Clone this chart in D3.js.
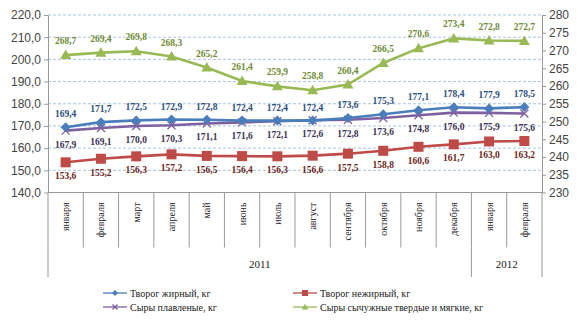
<!DOCTYPE html>
<html><head><meta charset="utf-8">
<script src="https://cdn.jsdelivr.net/npm/d3@7"></script>
<style>body{margin:0;background:#fff}svg{display:block}</style>
</head><body><svg id="c" width="580" height="326"></svg>
<script>
const months = ["января","февраля","март","апреля","май","июнь","июль","август","сентября","октября","ноября","декабря","января","февраля"];
const years = [{label:"2011", from:0, to:12},{label:"2012", from:12, to:14}];
const leftTicks = [140,150,160,170,180,190,200,210,220];
const rightTicks = [230,235,240,245,250,255,260,265,270,275,280];
const tvorogFat = [169.4,171.7,172.5,172.9,172.8,172.4,172.4,172.4,173.6,175.3,177.1,178.4,177.9,178.5];
const tvorogLow = [153.6,155.2,156.3,157.2,156.5,156.4,156.3,156.6,157.5,158.8,160.6,161.7,163.0,163.2];
const cheeseMelt = [167.9,169.1,170.0,170.3,171.1,171.6,172.1,172.6,172.8,173.6,174.8,176.0,175.9,175.6];
const cheeseHard = [268.7,269.4,269.8,268.3,265.2,261.4,259.9,258.8,260.4,266.5,270.6,273.4,272.8,272.7];
const seriesNames = ["Творог жирный, кг","Творог нежирный, кг","Сыры плавленые, кг","Сыры сычужные твердые и мягкие, кг"];

const svg = d3.select("#c");
const L = 48, R = 542, T = 15, B = 192.5;
const x = d3.scaleBand().domain(d3.range(months.length)).range([L, R]);
const yL = d3.scaleLinear().domain([140,220]).range([B, T]);
const yR = d3.scaleLinear().domain([230,280]).range([B, T]);
const fmt = v => v.toFixed(1).replace(".", ",");
const serif = "'Liberation Serif','Times New Roman',serif";
const sans = "'Liberation Sans',Arial,sans-serif";

// gridlines
svg.append("g").selectAll("line").data(leftTicks.filter(d => d > 140)).join("line")
  .attr("x1", L).attr("x2", R).attr("y1", d => yL(d)).attr("y2", d => yL(d))
  .attr("stroke", "#a9c4e0").attr("stroke-dasharray", "3,2").attr("stroke-width", 1);

// left axis
const gl = svg.append("g").attr("transform", `translate(${L},0)`)
  .call(d3.axisLeft(yL).tickValues(leftTicks).tickFormat(fmt).tickSize(4).tickSizeOuter(0));
gl.select(".domain").attr("stroke", "#999");
gl.selectAll(".tick line").attr("stroke", "#999");
gl.selectAll("text").attr("font-family", sans).attr("font-size", 12).attr("fill", "#444");

// right axis
const gr = svg.append("g").attr("transform", `translate(${R},0)`)
  .call(d3.axisRight(yR).tickValues(rightTicks).tickFormat(d => d).tickSize(4).tickSizeOuter(0));
gr.select(".domain").attr("stroke", "#999");
gr.selectAll(".tick line").attr("stroke", "#999");
gr.selectAll("text").attr("font-family", sans).attr("font-size", 12).attr("fill", "#444");

// category axis (multi-level)
const ax = svg.append("g");
ax.append("line").attr("x1", L).attr("x2", R).attr("y1", B).attr("y2", B).attr("stroke", "#999");
const bounds = d3.range(months.length + 1).map(i => i < months.length ? x(i) : R);
ax.selectAll("line.sep").data(bounds).join("line").attr("class", "sep")
  .attr("x1", d => d).attr("x2", d => d).attr("y1", B).attr("y2", B + 55)
  .attr("stroke", "#999");
ax.selectAll("line.ysep").data([L, x(12), R]).join("line").attr("class", "ysep")
  .attr("x1", d => d).attr("x2", d => d).attr("y1", B + 55).attr("y2", 277)
  .attr("stroke", "#999");
ax.selectAll("text.m").data(months).join("text").attr("class", "m")
  .attr("transform", (d, i) => `translate(${x(i) + x.bandwidth() / 2 + 3.5},${B + 10}) rotate(-90)`)
  .attr("text-anchor", "end").attr("font-family", serif).attr("font-size", 10).attr("fill", "#222")
  .text(d => d);
ax.selectAll("text.y").data(years).join("text").attr("class", "y")
  .attr("x", d => ((d.from === 0 ? L : x(d.from)) + (d.to >= months.length ? R : x(d.to))) / 2)
  .attr("y", 268).attr("text-anchor", "middle").attr("font-family", serif).attr("font-size", 11).attr("fill", "#222")
  .text(d => d.label);

const cx = i => x(i) + x.bandwidth() / 2;
const series = [
  {name: seriesNames[0], data: tvorogFat, y: yL, color: "#4a7ebb", label: "#2d4e7c", marker: "diamond", dy: -10},
  {name: seriesNames[1], data: tvorogLow, y: yL, color: "#be4b48", label: "#6b2422", marker: "square", dy: 17},
  {name: seriesNames[2], data: cheeseMelt, y: yL, color: "#7d60a0", label: "#403152", marker: "x", dy: 17},
  {name: seriesNames[3], data: cheeseHard, y: yR, color: "#98b954", label: "#6f8a34", marker: "triangle", dy: -11}
];
const drawOrder = [3, 1, 2, 0];

function marker(g, type, color, px, py, s) {
  if (type === "diamond") {
    g.append("path").attr("d", `M${px},${py - s}L${px + s},${py}L${px},${py + s}L${px - s},${py}Z`).attr("fill", color);
  } else if (type === "square") {
    g.append("rect").attr("x", px - s).attr("y", py - s).attr("width", 2 * s).attr("height", 2 * s).attr("fill", color);
  } else if (type === "triangle") {
    g.append("path").attr("d", `M${px},${py - s * 1.1}L${px + s * 1.1},${py + s * 0.8}L${px - s * 1.1},${py + s * 0.8}Z`).attr("fill", color);
  } else {
    g.append("path").attr("d", `M${px - s},${py - s}L${px + s},${py + s}M${px - s},${py + s}L${px + s},${py - s}`)
      .attr("stroke", color).attr("stroke-width", 1.3);
  }
}

drawOrder.forEach(k => {
  const s = series[k];
  const g = svg.append("g");
  g.append("path").datum(s.data)
    .attr("d", d3.line().x((d, i) => cx(i)).y(d => s.y(d)))
    .attr("fill", "none").attr("stroke", s.color).attr("stroke-width", 2.6);
  s.data.forEach((d, i) => marker(g, s.marker, s.color, cx(i), s.y(d), s.marker === "x" ? 4 : 5));
});
series.forEach(s => {
  svg.append("g").selectAll("text").data(s.data).join("text")
    .attr("x", (d, i) => cx(i)).attr("y", d => s.y(d) + s.dy)
    .attr("text-anchor", "middle").attr("font-family", serif).attr("font-size", 9.5).attr("font-weight", "bold")
    .attr("fill", s.label).text(d => fmt(d));
});

// legend
const leg = [[103, 293], [293, 293], [103, 307], [293, 307]];
const legOrder = [0, 1, 2, 3];
legOrder.forEach((k, j) => {
  const s = series[k];
  const [lx, ly] = leg[j];
  const g = svg.append("g");
  g.append("line").attr("x1", lx).attr("x2", lx + 24).attr("y1", ly).attr("y2", ly).attr("stroke", s.color).attr("stroke-width", 1.3);
  marker(g, s.marker, s.color, lx + 12, ly, s.marker === "x" ? 2.5 : 3);
  g.append("text").attr("x", lx + 27).attr("y", ly + 3.5).attr("font-family", serif).attr("font-size", 10).attr("fill", "#222").text(s.name);
});
</script></body></html>
